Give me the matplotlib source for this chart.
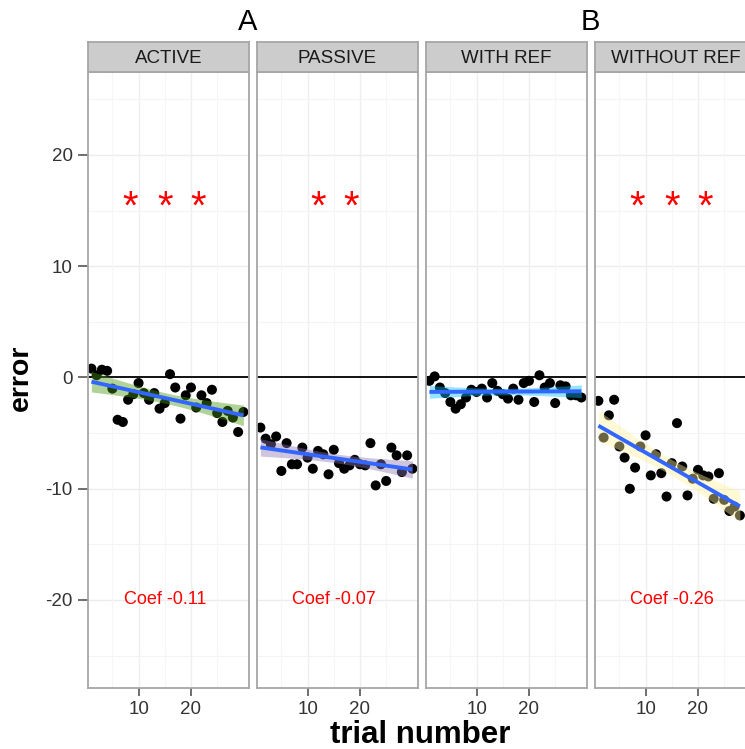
import numpy as np
import matplotlib
matplotlib.use("Agg")
import matplotlib.pyplot as plt

plt.rcParams['font.family'] = ['Liberation Sans', 'DejaVu Sans']

# ---------------- data ----------------
panels = ["ACTIVE", "PASSIVE", "WITH REF", "WITHOUT REF"]
active = [0.8, 0.2, 0.7, 0.6, -1.0, -3.8, -4.0, -2.0, -1.5, -0.5, -1.4, -2.0, -1.4, -2.8, -2.3,
          0.3, -0.9, -3.7, -1.6, -0.9, -2.7, -1.6, -2.3, -1.1, -3.2, -4.0, -3.0, -3.6, -4.9, -3.1]
passive = [-4.5, -5.5, -6.0, -5.3, -8.4, -5.9, -7.8, -7.8, -6.3, -7.2, -8.2, -6.6, -6.9, -8.7, -6.5,
           -7.7, -8.2, -7.9, -7.4, -7.8, -7.9, -5.9, -9.7, -7.8, -9.3, -6.3, -7.0, -8.5, -7.0, -8.2]
with_ref = [-0.3, 0.1, -0.9, -1.4, -2.2, -2.8, -2.4, -1.8, -1.1, -1.3, -1.0, -1.8, -0.5, -1.2, -1.5,
            -1.9, -1.0, -2.0, -0.5, -0.3, -2.2, 0.2, -0.9, -0.5, -2.3, -0.7, -0.8, -1.6, -1.6, -1.8]
without_ref = [-2.1, -5.4, -3.4, -2.0, -6.2, -7.2, -10.0, -8.1, -6.2, -5.2, -8.8, -6.9, -8.6, -10.7,
               -7.7, -4.1, -8.0, -10.6, -9.1, -8.3, -8.8, -8.9, -10.9, -8.6, -11.0, -12.0, -11.6, -12.4]
series = [active, passive, with_ref, without_ref]
coef_labels = ["Coef -0.11", "Coef -0.07", "", "Coef -0.26"]
n_stars = [3, 2, 0, 3]
star_x = [8.4, 15.0, 21.4]
star_x2 = [12.0, 18.3]
group_labels = ["A", "B"]
yticks = [-20, -10, 0, 10, 20]
xticks = [10, 20]

ribbon_colors = ["#46980f", "#8e75b4", "#00c0ff", "#fff29b"]

# ---------------- layout ----------------
W, H = 745, 749
fig = plt.figure(figsize=(W / 100, H / 100), dpi=100)
fig.patch.set_facecolor("white")

pw, step = 161, 169
left0 = 88
ptop, pbot = 72, 688
strip_h = 30
xlim = (0.35, 0.35 + pw / 5.24)
ylim = (-27.91, 27.46)

for i, (name, ys) in enumerate(zip(panels, series)):
    lx = left0 + i * step
    ax = fig.add_axes([lx / W, 1 - pbot / H, pw / W, (pbot - ptop) / H])
    ax.set_xlim(*xlim)
    ax.set_ylim(*ylim)
    ax.set_facecolor("white")
    # faint grid
    for g in [-25, -15, -5, 5, 15, 25]:
        ax.axhline(g, color="#f4f4f4", lw=0.8, zorder=0)
    for g in [-20, -10, 10, 20]:
        ax.axhline(g, color="#ececec", lw=1.0, zorder=0)
    for g in [5, 15, 25]:
        ax.axvline(g, color="#f6f6f6", lw=0.8, zorder=0)
    for g in [10, 20]:
        ax.axvline(g, color="#efefef", lw=1.0, zorder=0)
    ax.axhline(0, color="#111111", lw=1.4, zorder=1)

    y = np.array(ys, dtype=float)
    x = np.arange(1, len(y) + 1, dtype=float)
    ax.scatter(x, y, s=52, color="black", edgecolors="none", zorder=2)

    # linear fit with 95% confidence band
    b, a = np.polyfit(x, y, 1)
    xx = np.linspace(x.min(), x.max(), 100)
    yy = a + b * xx
    resid = y - (a + b * x)
    n = len(x)
    s = np.sqrt(np.sum(resid ** 2) / (n - 2))
    sxx = np.sum((x - x.mean()) ** 2)
    se = s * np.sqrt(1 / n + (xx - x.mean()) ** 2 / sxx)
    ax.fill_between(xx, yy - 2.05 * se, yy + 2.05 * se, color=ribbon_colors[i],
                    alpha=0.42, lw=0, zorder=3)
    ax.plot(xx, yy, color="#3366FF", lw=2.8, zorder=4, solid_capstyle="butt")

    # significance stars
    sx = star_x if n_stars[i] == 3 else (star_x2 if n_stars[i] == 2 else [])
    for xs in sx:
        ax.text(xs, 15.3, "*", color="red", fontsize=29, ha="center", va="center", zorder=5)
    if coef_labels[i]:
        ax.text(15.05, -20, coef_labels[i], color="red", fontsize=13, ha="center",
                va="center", zorder=5)

    for sp in ax.spines.values():
        sp.set_color("#a6a6a6")
        sp.set_linewidth(1.3)
    ax.set_xticks(xticks)
    ax.set_xticklabels([str(t) for t in xticks], fontsize=13.5, color="#333333")
    ax.tick_params(axis="x", length=6, width=1.2, color="#555555", pad=3)
    if i == 0:
        ax.set_yticks(yticks)
        ax.set_yticklabels([str(t) for t in yticks], fontsize=13.5, color="#333333")
        ax.tick_params(axis="y", length=7, width=1.2, color="#555555", pad=4)
    else:
        ax.set_yticks([])

    # strip
    sax = fig.add_axes([lx / W, 1 - ptop / H, pw / W, strip_h / H])
    sax.set_xticks([])
    sax.set_yticks([])
    sax.set_facecolor("#cccccc")
    for sp in sax.spines.values():
        sp.set_color("#a6a6a6")
        sp.set_linewidth(1.3)
    sax.text(0.5, 0.45, name, transform=sax.transAxes, ha="center", va="center",
             fontsize=13.5, color="#1a1a1a")

fig.text(248 / W, 1 - 22 / H, group_labels[0], fontsize=21, ha="center", va="center")
fig.text(590 / W, 1 - 22 / H, group_labels[1], fontsize=21, ha="center", va="center")
fig.text(21 / W, 1 - 378 / H, "error", fontsize=20.5, fontweight="bold", rotation=90,
         ha="center", va="center")
fig.text(420 / W, 1 - 735 / H, "trial number", fontsize=22.5, fontweight="bold",
         ha="center", va="center")

fig.savefig("out.png", dpi=100)
